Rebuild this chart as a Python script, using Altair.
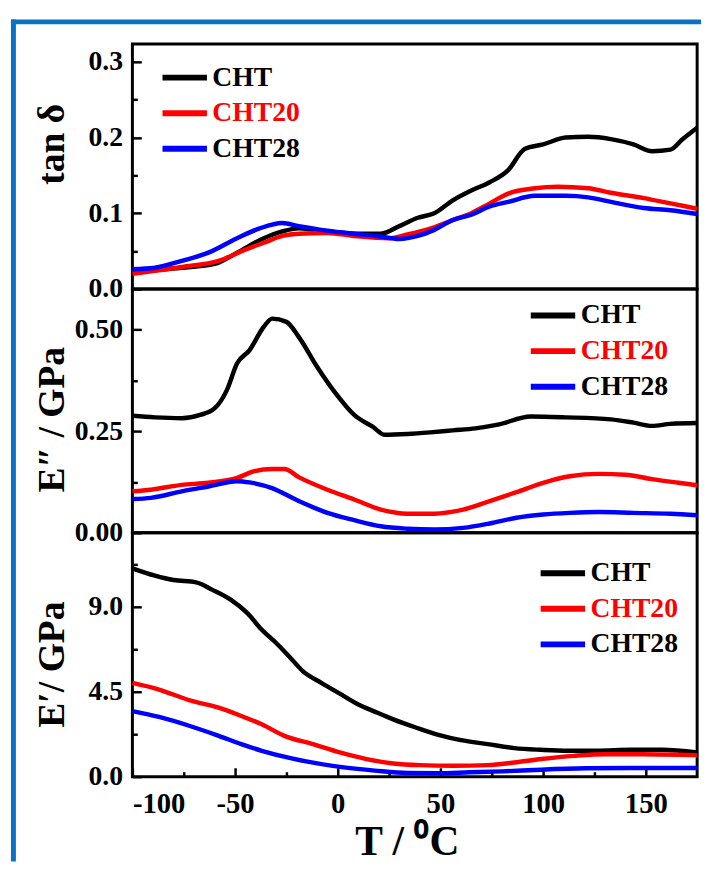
import altair as alt
import pandas as pd

FONT = "Liberation Serif"
SERIES = ["CHT", "CHT20", "CHT28"]
COLORS = ["#000000", "#ff0000", "#0000ff"]
X_TICKS = [-100, -75, -50, -25, 0, 25, 50, 75, 100, 125, 150]

# ---- tan delta ----
tan_cht_T = [-100, -76, -60, -49, -36, -27, -19, -5, 8, 21, 30, 39, 47, 56, 65, 74, 83, 91, 100, 111, 122, 133, 144, 153, 162, 168, 175]
tan_cht_v = [0.023, 0.028, 0.033, 0.048, 0.067, 0.076, 0.080, 0.076, 0.073, 0.073, 0.083, 0.094, 0.100, 0.117, 0.130, 0.141, 0.157, 0.185, 0.191, 0.200, 0.201, 0.198, 0.191, 0.182, 0.184, 0.198, 0.213]
tan_c20_T = [-100, -76, -58, -45, -36, -27, -19, -5, 8, 25, 34, 43, 56, 65, 74, 83, 96, 107, 122, 133, 149, 162, 175]
tan_c20_v = [0.020, 0.029, 0.037, 0.052, 0.061, 0.070, 0.073, 0.074, 0.070, 0.067, 0.072, 0.078, 0.091, 0.100, 0.113, 0.126, 0.133, 0.135, 0.133, 0.127, 0.120, 0.113, 0.106]
tan_c28_T = [-100, -89, -76, -63, -49, -38, -27, -19, -5, 8, 19, 30, 39, 47, 56, 65, 74, 83, 96, 111, 122, 133, 149, 162, 175]
tan_c28_v = [0.026, 0.028, 0.037, 0.048, 0.067, 0.080, 0.087, 0.083, 0.077, 0.073, 0.070, 0.066, 0.070, 0.078, 0.091, 0.098, 0.109, 0.115, 0.123, 0.123, 0.121, 0.115, 0.107, 0.104, 0.099]

# ---- E'' (GPa) ----
el_cht_T = [-100, -89, -76, -67, -60, -54, -49, -43, -36, -32, -25, -19, -10, -1, 8, 17, 23, 34, 45, 56, 67, 78, 94, 111, 133, 144, 153, 162, 175]
el_cht_v = [0.288, 0.284, 0.282, 0.290, 0.306, 0.351, 0.417, 0.449, 0.507, 0.527, 0.519, 0.482, 0.408, 0.343, 0.290, 0.261, 0.241, 0.243, 0.247, 0.252, 0.257, 0.266, 0.286, 0.284, 0.279, 0.271, 0.263, 0.268, 0.270]
el_c20_T = [-100, -91, -76, -63, -49, -41, -32, -26, -19, -5, 8, 21, 34, 47, 61, 74, 87, 100, 113, 127, 140, 153, 166, 175]
el_c20_v = [0.102, 0.106, 0.118, 0.123, 0.135, 0.151, 0.157, 0.157, 0.137, 0.106, 0.082, 0.057, 0.047, 0.047, 0.057, 0.078, 0.100, 0.123, 0.139, 0.145, 0.143, 0.132, 0.123, 0.117]
el_c28_T = [-100, -91, -76, -63, -49, -43, -32, -19, -5, 8, 21, 34, 47, 61, 74, 87, 100, 113, 127, 144, 162, 175]
el_c28_v = [0.083, 0.086, 0.102, 0.114, 0.127, 0.124, 0.110, 0.078, 0.049, 0.031, 0.016, 0.010, 0.008, 0.012, 0.023, 0.037, 0.045, 0.049, 0.051, 0.049, 0.047, 0.043]

# ---- E' (GPa) ----
es_cht_T = [-100, -89, -80, -69, -61, -52, -44, -37, -30, -23, -17, -8, 1, 10, 18, 27, 38, 49, 60, 73, 86, 99, 112, 126, 143, 158, 175]
es_cht_v = [11.02, 10.63, 10.40, 10.28, 9.88, 9.35, 8.65, 7.77, 7.07, 6.28, 5.58, 4.96, 4.39, 3.82, 3.44, 3.03, 2.60, 2.21, 1.93, 1.72, 1.51, 1.42, 1.37, 1.37, 1.42, 1.42, 1.28]
es_c20_T = [-100, -87, -72, -58, -47, -37, -26, -12, 1, 14, 27, 40, 56, 73, 86, 99, 115, 130, 148, 175]
es_c20_v = [4.96, 4.61, 4.03, 3.65, 3.21, 2.77, 2.16, 1.72, 1.28, 0.93, 0.70, 0.61, 0.58, 0.61, 0.75, 0.93, 1.10, 1.19, 1.19, 1.14]
es_c28_T = [-100, -87, -72, -58, -47, -37, -23, -10, 3, 18, 34, 49, 64, 80, 99, 121, 143, 175]
es_c28_v = [3.47, 3.16, 2.68, 2.16, 1.72, 1.37, 0.98, 0.70, 0.49, 0.32, 0.19, 0.18, 0.23, 0.28, 0.37, 0.44, 0.46, 0.46]


def frame(triples):
    rows = []
    for name, ts, vs in triples:
        for t, v in zip(ts, vs):
            rows.append({"T": t, "v": v, "s": name})
    return pd.DataFrame(rows)


def yaxis(values, step, fmt, title, title_y):
    major = f"abs(datum.value/{step} - round(datum.value/{step})) < 1e-6"
    return alt.Axis(
        values=values,
        labelExpr=f"{major} ? format(datum.value, '{fmt}') : ''",
        tickSize=alt.ExprRef(f"{major} ? -9 : -5"),
        labelPadding=19,
        title=title,
        titleX=-70,
        titleY=title_y,
        titleBaseline="alphabetic",
        titleAngle=270,
        titleAlign="center",
    )


def legend(lx, ly):
    return alt.Legend(
        title=None,
        orient="none",
        legendX=lx,
        legendY=ly,
        symbolType="M-1.5,0H1.5",
        symbolSize=900,
        symbolStrokeWidth=6,
        labelFont=FONT,
        labelFontSize=28,
        labelFontWeight="bold",
        labelColor=alt.ExprRef("datum.label == 'CHT20' ? '#ff0000' : '#000000'"),
        labelOffset=10,
        padding=0,
        rowPadding=4,
    )


W, H = 572, 247


def panel(df, ydom, yax, leg, xaxis):
    return alt.Chart(df).mark_line(strokeWidth=4.5, interpolate="monotone").encode(
        x=alt.X("T:Q", scale=alt.Scale(domain=[-100, 175], nice=False, zero=False), axis=xaxis),
        y=alt.Y("v:Q", scale=alt.Scale(domain=ydom, nice=False, zero=False), axis=yax),
        color=alt.Color("s:N", scale=alt.Scale(domain=SERIES, range=COLORS), legend=leg),
    ).properties(width=W, height=H)


top_df = frame([("CHT", tan_cht_T, tan_cht_v), ("CHT20", tan_c20_T, tan_c20_v), ("CHT28", tan_c28_T, tan_c28_v)])
mid_df = frame([("CHT", el_cht_T, el_cht_v), ("CHT20", el_c20_T, el_c20_v), ("CHT28", el_c28_T, el_c28_v)])
bot_df = frame([("CHT", es_cht_T, es_cht_v), ("CHT20", es_c20_T, es_c20_v), ("CHT28", es_c28_T, es_c28_v)])

top_lines = panel(
    top_df, [0, 0.3235],
    yaxis([0, 0.05, 0.1, 0.15, 0.2, 0.25, 0.3], 0.1, ".1f", "tan δ", 101),
    legend(35, 16), None,
).properties(height=248)

mid = panel(
    mid_df, [0, 0.6],
    yaxis([0, 0.125, 0.25, 0.375, 0.5], 0.25, ".2f", "E\u2033 / GPa", 132),
    legend(408, 9), None,
)

xax = alt.Axis(
    values=X_TICKS,
    labelExpr="datum.value % 50 == 0 ? (datum.value < 0 ? '-' + abs(datum.value) : '' + datum.value) : ''",
    tickSize=alt.ExprRef("datum.value % 50 == 0 ? -9 : -5"),
    labelPadding=45,
    labelBaseline="alphabetic",
    labelFontSize=29,
    title="T / \u2070C",
    titleFontSize=42,
    titleX=278,
    titleY=79,
    titleBaseline="alphabetic",
)
bot = panel(
    bot_df, [0, 12.9],
    yaxis([0, 2.25, 4.5, 6.75, 9.0, 11.25], 4.5, ".1f", "E\u2032/ GPa", 133),
    legend(418, 23), xax,
)

border_src = pd.DataFrame({"k": [0]})
vbar = alt.Chart(border_src).mark_rect(color="#0a72c4").encode(
    x=alt.value(-123), x2=alt.value(-118), y=alt.value(-25), y2=alt.value(828)
)
hbar = alt.Chart(border_src).mark_rect(color="#0a72c4").encode(
    x=alt.value(-123), x2=alt.value(576), y=alt.value(-25), y2=alt.value(-20)
)
top = alt.layer(top_lines, vbar, hbar)

chart = alt.vconcat(top, mid, bot, spacing=0, bounds="flush").resolve_scale(
    color="independent"
).resolve_legend(
    color="independent"
).properties(
    padding={"left": 1, "top": 4, "right": 0, "bottom": 0}
).configure_view(
    stroke="black", strokeWidth=3
).configure_axis(
    grid=False, domain=False,
    labelFont=FONT, labelFontSize=28, labelFontWeight="bold", labelColor="black",
    tickColor="black", tickWidth=2.5,
    titleFont=FONT, titleFontSize=38, titleFontWeight="bold", titleColor="black",
)

chart.save("out.html", embed_options={"renderer": "svg", "actions": False})
